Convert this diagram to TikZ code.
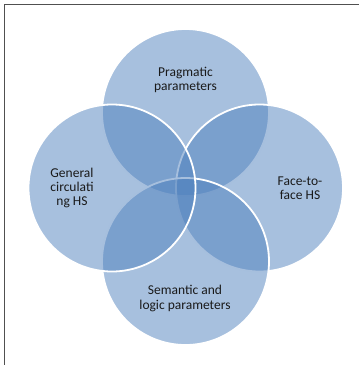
\documentclass[tikz,border=0pt]{standalone}
\usepackage{fontspec}
\setmainfont{Carlito}
\definecolor{vennblue}{HTML}{4F81BD}
\definecolor{labeltext}{HTML}{1A1A1A}
\definecolor{framegray}{HTML}{505050}
\begin{document}
\begin{tikzpicture}[x=1pt,y=-1pt,
  venn/.style={circle, minimum size=167pt, inner sep=0pt, fill=vennblue, fill opacity=0.5, draw=white, draw opacity=1, line width=1.8pt},
  lbl/.style={align=center, text=labeltext, font=\fontsize{13.5}{14.2}\selectfont, inner sep=0pt}]
\useasboundingbox (0,0) rectangle (359,365);
\draw[framegray, line width=0.9pt] (4,365) -- (4,4) -- (359,4);
\node[venn] (top) at (185.5,112.5) {};
\node[venn] (right) at (259.5,188) {};
\node[venn] (bottom) at (185.5,261.5) {};
\node[venn] (left) at (112,188) {};
\node[lbl] (tl) at (185.5,79.6) {Pragmatic\\parameters};
\node[lbl] (ll) at (72,188.2) {General\\circulati\\ng HS};
\node[lbl] (rl) at (300,188.5) {Face-to-\\face HS};
\node[lbl] (bl) at (185,298.5) {Semantic and\\logic parameters};
\end{tikzpicture}
\end{document}
